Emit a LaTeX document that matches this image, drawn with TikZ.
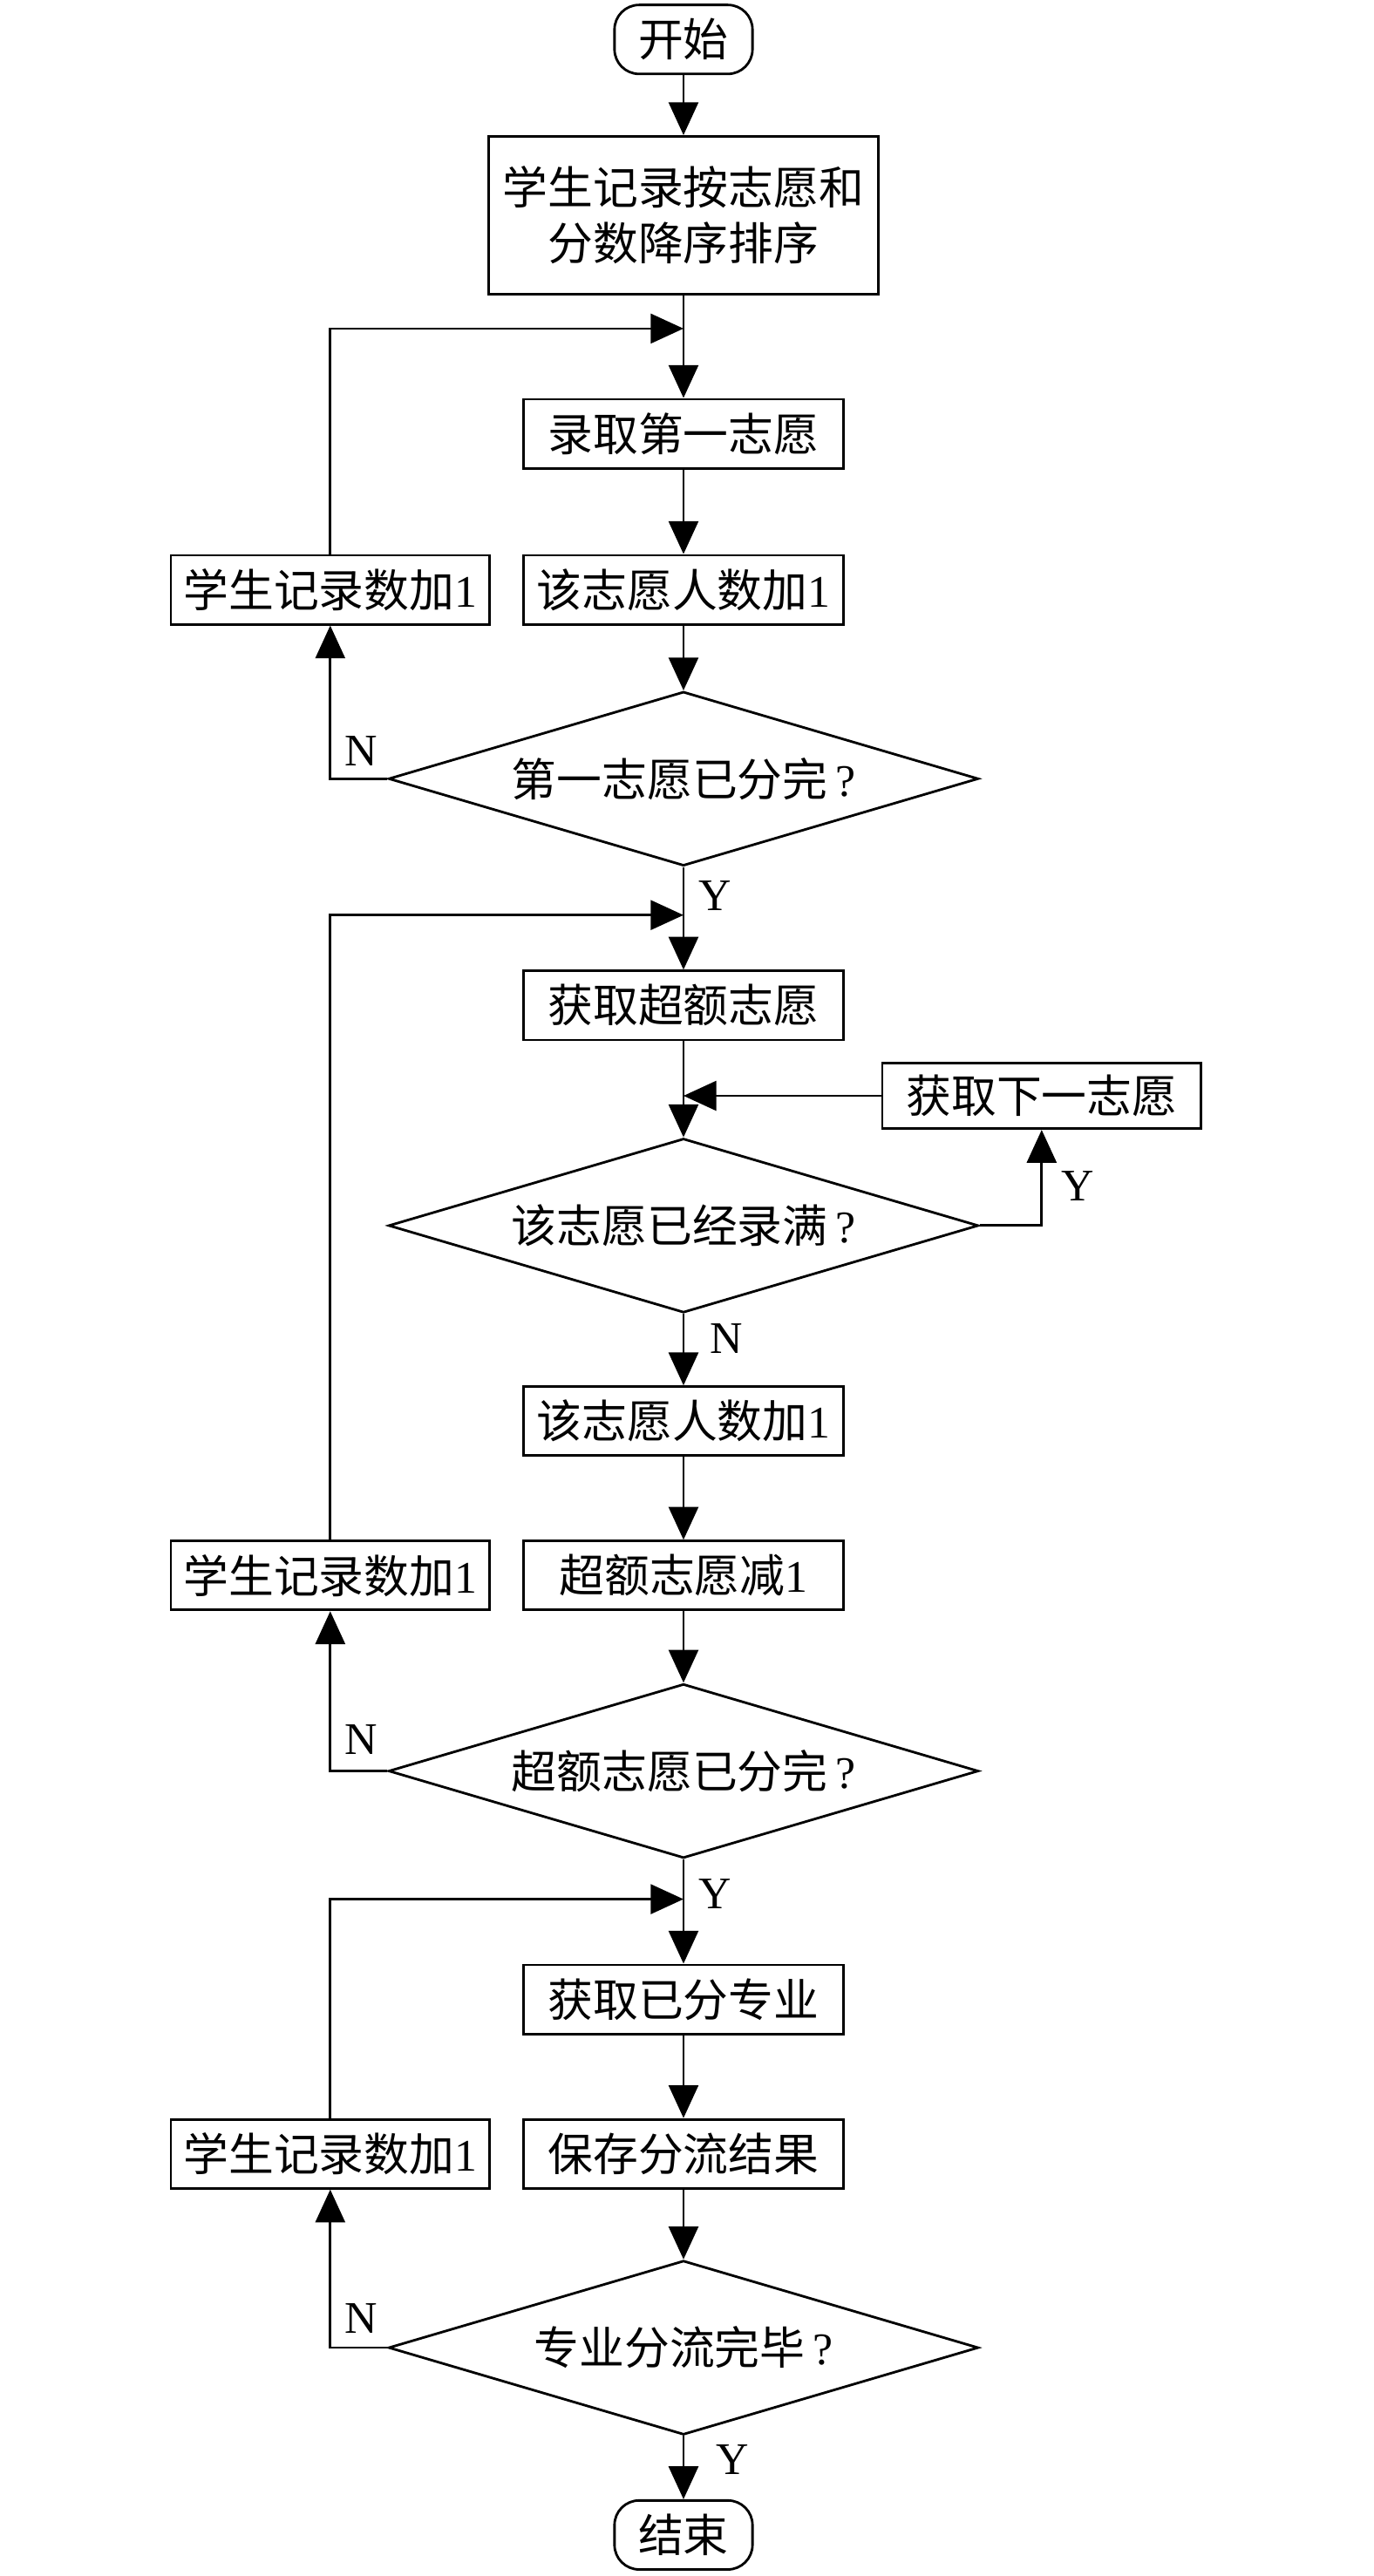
\documentclass[tikz,border=0pt]{standalone}
\usepackage{fontspec}
\setmainfont{Liberation Serif}
\newfontfamily\cjk{Noto Sans CJK SC}
\usetikzlibrary{shapes.geometric,arrows.meta}
\begin{document}
\begin{tikzpicture}[x=1pt,y=-1pt,
  every node/.style={font=\fontsize{27.5}{34}\selectfont},
  pbox/.style={draw, line width=1.5pt, minimum width=195pt, minimum height=42pt, inner sep=0pt},
  lbox/.style={pbox, minimum width=194pt},
  term/.style={draw, line width=1.5pt, rounded corners=15pt, minimum width=84pt, minimum height=42pt, inner sep=0pt},
  dec/.style={draw, diamond, aspect=3.4, line width=1.5pt, minimum width=359pt, minimum height=106pt, inner sep=0pt},
  arr/.style={line width=1.5pt, -{Triangle[length=20pt,width=18pt]}},
  ln/.style={line width=1.5pt},
  lab/.style={inner sep=0pt}]
\useasboundingbox (0,0) rectangle (836,1568);
% main column
\node[term] (start) at (416,24) {\cjk 开始};
\node[pbox, minimum width=237pt, minimum height=96pt, align=center] (b1) at (416,131) {\cjk 学生记录按志愿和\\\cjk 分数降序排序};
\coordinate (m1) at (416,200);
\node[pbox] (b2) at (416,264) {\cjk 录取第一志愿};
\node[pbox] (b3) at (416,359) {{\cjk 该志愿人数加}1};
\node[lbox] (l1) at (201,359) {{\cjk 学生记录数加}1};
\node[dec] (d1) at (416,474) {{\cjk 第一志愿已分完}\,?};
\coordinate (m2) at (416,557);
\node[pbox] (b4) at (416,612) {\cjk 获取超额志愿};
\coordinate (m3) at (416,667);
\node[lbox, minimum height=40pt] (nx) at (634,667) {\cjk 获取下一志愿};
\node[dec] (d2) at (416,746) {{\cjk 该志愿已经录满}\,?};
\node[pbox] (b5) at (416,865) {{\cjk 该志愿人数加}1};
\node[pbox] (b6) at (416,959) {{\cjk 超额志愿减}1};
\node[lbox] (l2) at (201,959) {{\cjk 学生记录数加}1};
\node[dec] (d3) at (416,1078) {{\cjk 超额志愿已分完}\,?};
\coordinate (m4) at (416,1156);
\node[pbox] (b7) at (416,1217) {\cjk 获取已分专业};
\node[pbox] (b8) at (416,1311) {\cjk 保存分流结果};
\node[lbox] (l3) at (201,1311) {{\cjk 学生记录数加}1};
\node[dec] (d4) at (416,1429) {{\cjk 专业分流完毕}\,?};
\node[term] (end) at (416,1543) {\cjk 结束};
% labels
\node[lab] (n1) at (220,457) {N};
\node[lab] (y1) at (435,545) {Y};
\node[lab] (y2) at (656,722) {Y};
\node[lab] (n2) at (442,815) {N};
\node[lab] (n3) at (220,1059) {N};
\node[lab] (y3) at (435,1153) {Y};
\node[lab] (n4) at (220,1411) {N};
\node[lab] (y4) at (446,1497) {Y};
% connectors
\draw[arr] (start) -- (b1);
\draw[ln] (b1.south) -- (m1);
\draw[arr] (m1) -- (b2.north);
\draw[arr] (b2) -- (b3);
\draw[arr] (b3) -- (d1);
\draw[arr] (l1.north) |- (m1);
\draw[arr] (d1.west) -| (l1.south);
\draw[ln] (d1.south) -- (m2);
\draw[arr] (m2) -- (b4.north);
\draw[arr] (l2.north) |- (m2);
\draw[ln] (b4.south) -- (m3);
\draw[arr] (m3) -- (d2.north);
\draw[arr] (nx.west) -- (m3);
\draw[arr] (d2.east) -| (nx.south);
\draw[arr] (d2) -- (b5);
\draw[arr] (b5) -- (b6);
\draw[arr] (b6) -- (d3);
\draw[arr] (d3.west) -| (l2.south);
\draw[ln] (d3.south) -- (m4);
\draw[arr] (m4) -- (b7.north);
\draw[arr] (l3.north) |- (m4);
\draw[arr] (b7) -- (b8);
\draw[arr] (b8) -- (d4);
\draw[arr] (d4.west) -| (l3.south);
\draw[arr] (d4) -- (end);
\end{tikzpicture}
\end{document}
